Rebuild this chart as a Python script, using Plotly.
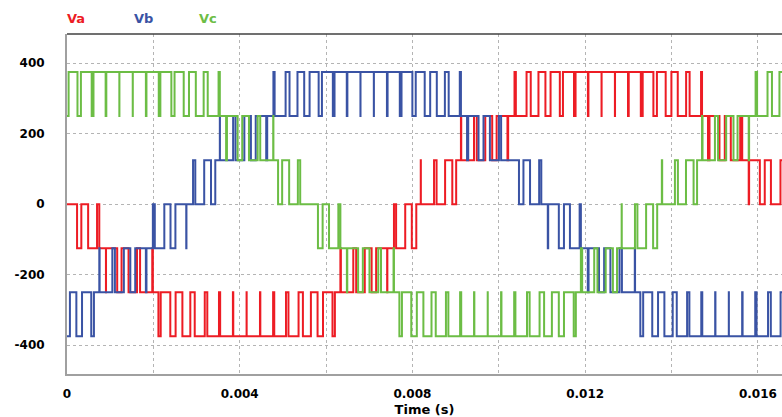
import plotly.graph_objects as go

# Switching instants, in electrical degrees of the 60 Hz
# fundamental, each paired with the voltage level (V) held after that instant.
F0 = 60.0
T_END = 0.016558  # right edge of the visible window (s)

va_steps = [(0,0),(5.03,-125),(7.17,0),(10.57,-125),(15.03,0),(16.15,-125),(19.48,-250),(19.52,-125),
    (25.11,-250),(27.29,-125),(30.79,-250),(35.01,-125),(36.55,-250),(42.65,-125),(42.95,-250),
    (45.73,-375),(46.87,-250),(51.67,-375),(54.33,-250),(57.72,-375),(61.68,-250),(63.89,-375),
    (68.91,-250),(70.18,-375),(76.02,-250),(76.61,-375),(82.99,-250),(83.17,-375),(89.83,-250),
    (89.87,-375),(96.53,-250),(96.70,-375),(103.10,-250),(103.67,-375),(109.53,-250),(110.77,-375),
    (115.83,-250),(118.0,-375),(122.0,-250),(125.34,-375),(128.06,-250),(132.8,-375),(134.0,-250),
    (136.75,-125),(137.0,-250),(143.2,-125),(144.65,-250),(148.95,-125),(152.37,-250),(154.63,-125),
    (160.15,-250),(160.25,-125),(163.55,0),(164.62,-125),(169.18,0),(172.48,-125),(174.72,0),
    (176.95,125),(177.0,0),(183.6,125),(184.87,0),(189.13,125),(192.73,0),(194.67,125),(197.05,250),
    (197.2,125),(203.6,250),(204.98,125),(209.22,250),(212.69,125),(214.91,250),(220.33,125),
    (220.67,250),(223.85,375),(224.52,250),(229.88,375),(231.97,250),(235.83,375),(239.31,250),
    (241.89,375),(246.52,250),(248.08,375),(253.61,250),(254.39,375),(260.57,250),(260.83,375),
    (267.38,250),(267.42,375),(274.07,250),(274.13,375),(280.62,250),(280.98,375),(287.03,250),
    (287.97,375),(293.32,250),(295.08,375),(299.47,250),(302.33,375),(305.51,250),(309.69,375),
    (311.44,250),(317.16,375),(317.65,250),(320.63,125),(321.38,250),(326.37,125),(329.03,250),
    (332.04,125),(336.76,250),(337.75,125),(341.0,0),(341.2,125),(346.57,0),(349.03,125),
    (352.11,0),(356.89,125)]

vb_steps = [(0,-375),(1.46,-250),(4.68,-375),(7.52,-250),(12.13,-375),(13.47,-250),(16.15,-125),
    (16.32,-250),(22.68,-125),(23.96,-250),(28.44,-125),(31.67,-250),(34.13,-125),(39.45,-250),
    (39.75,-125),(42.95,0),(43.92,-125),(48.68,0),(51.77,-125),(54.23,0),(59.65,-125),(59.75,0),
    (63.05,125),(64.17,0),(68.63,125),(72.03,0),(74.17,125),(76.45,250),(76.5,125),(83.1,250),
    (84.29,125),(88.71,250),(92.0,125),(94.4,250),(99.65,125),(100.15,250),(103.25,375),
    (103.85,250),(109.35,375),(111.31,250),(115.29,375),(118.65,250),(121.35,375),(125.88,250),
    (127.52,375),(132.98,250),(133.82,375),(139.95,250),(140.25,375),(146.78,250),(146.82,375),
    (153.48,250),(153.52,375),(160.04,250),(160.36,375),(166.47,250),(167.33,375),(172.76,250),
    (174.44,375),(178.93,250),(181.67,375),(184.98,250),(189.02,375),(190.92,250),(196.48,375),
    (197.05,250),(200.11,125),(200.69,250),(205.86,125),(208.34,250),(211.54,125),(216.06,250),
    (217.15,125),(226.08,0),(228.32,125),(231.62,0),(236.18,125),(237.25,0),(240.5,-125),
    (240.7,0),(246.02,-125),(248.58,0),(251.57,-125),(256.43,0),(257.05,-125),(260.5,-250),
    (260.9,-125),(266.12,-250),(268.68,-125),(271.82,-250),(276.38,-125),(277.58,-250),
    (284.02,-125),(284.15,-250),(286.79,-375),(288.21,-250),(292.75,-375),(295.65,-250),
    (298.82,-375),(302.98,-250),(305.01,-375),(310.19,-250),(311.33,-375),(317.27,-250),
    (317.77,-375),(324.23,-250),(324.36,-375),(331.04,-250),(331.08,-375),(337.72,-250),
    (337.94,-375),(344.26,-250),(344.93,-375),(350.67,-250),(352.06,-375),(356.94,-250)]

vc_steps = [(0,250),(0.8,375),(5.24,250),(6.96,375),(12.35,250),(13.25,375),(19.33,250),(19.67,375),
    (26.18,250),(26.22,375),(32.88,250),(32.92,375),(39.46,250),(39.74,375),(45.9,250),(46.7,375),
    (52.2,250),(53.8,375),(58.38,250),(61.02,375),(64.44,250),(68.36,375),(70.39,250),(75.81,375),
    (76.45,250),(79.59,125),(80.01,250),(85.35,125),(87.65,250),(91.03,125),(95.37,250),
    (96.65,125),(103.15,250),(103.25,125),(105.58,0),(107.62,125),(111.12,0),(115.48,125),
    (116.65,0),(125.53,-125),(127.87,0),(131.07,-125),(135.73,0),(136.75,-125),(140.0,-250),
    (140.2,-125),(145.62,-250),(147.98,-125),(151.3,-250),(155.7,-125),(157.06,-250),
    (163.34,-125),(163.55,-250),(166.26,-375),(167.54,-250),(172.21,-375),(174.99,-250),
    (178.27,-375),(182.33,-250),(184.45,-375),(189.55,-250),(190.76,-375),(196.64,-250),
    (197.19,-375),(203.61,-250),(203.76,-375),(210.44,-250),(210.47,-375),(217.13,-250),
    (217.32,-375),(223.68,-250),(224.3,-375),(230.1,-250),(231.41,-375),(236.39,-250),
    (238.65,-375),(242.55,-250),(246.01,-375),(248.59,-250),(253.47,-375),(254.53,-250),
    (257.05,-125),(257.69,-250),(263.72,-125),(265.34,-250),(269.46,-125),(273.06,-250),
    (275.14,-125),(277.45,0),(277.5,-125),(284.1,0),(285.32,-125),(289.68,0),(293.18,-125),
    (295.22,0),(297.55,125),(297.71,0),(304.09,125),(305.58,0),(309.62,125),(313.43,0),
    (315.17,125),(317.65,250),(317.9,125),(324.1,250),(325.67,125),(329.73,250),(333.38,125),
    (335.42,250),(341.0,125),(341.2,250),(344.45,375),(345.19,250),(350.41,375),(352.63,250),
    (356.37,375)]

series_names = ["Va", "Vb", "Vc"]
series_colors = ["#ed1c24", "#3a53a4", "#6cbd45"]

x_tick_vals = [0, 0.002, 0.004, 0.006, 0.008, 0.010, 0.012, 0.014, 0.016]
x_tick_text = ["0", "", "0.004", "", "0.008", "", "0.012", "", "0.016"]
y_tick_vals = [-400, -200, 0, 200, 400]
y_tick_text = ["-400", "-200", "0", "200", "400"]


def to_xy(steps):
    xs = [deg / 360.0 / F0 for deg, _ in steps]
    ys = [lvl for _, lvl in steps]
    xs.append(T_END)
    ys.append(ys[-1])
    return xs, ys


fig = go.Figure()
for steps, name, color in zip([va_steps, vb_steps, vc_steps], series_names, series_colors):
    xs, ys = to_xy(steps)
    fig.add_trace(go.Scatter(x=xs, y=ys, mode="lines", name=name,
                             line=dict(color=color, width=2, shape="hv"),
                             showlegend=False))

tick_font = dict(family="DejaVu Sans", size=12, color="black", weight="bold")

fig.update_layout(
    width=782, height=417,
    margin=dict(l=67, r=0, t=34, b=43),
    paper_bgcolor="white", plot_bgcolor="white",
    xaxis=dict(range=[0, T_END], tickvals=x_tick_vals, ticktext=x_tick_text,
               showgrid=True, gridcolor="#b4b4b4", griddash="3px,3px", gridwidth=1,
               zeroline=False, showline=True, linecolor="#a0a0a0", linewidth=2,
               ticks="", tickfont=tick_font, ticklabelstandoff=8,
               title=dict(text="Time (s)", standoff=4,
                          font=dict(family="DejaVu Sans", size=13, color="black", weight="bold"))),
    yaxis=dict(range=[-482, 483], tickvals=y_tick_vals, ticktext=y_tick_text,
               showgrid=True, gridcolor="#b4b4b4", griddash="3px,3px", gridwidth=1,
               zeroline=False, showline=True, linecolor="#a0a0a0", linewidth=2,
               ticks="", tickfont=tick_font, ticklabelstandoff=18),
    shapes=[dict(type="line", xref="paper", yref="paper", x0=0, x1=1, y0=1, y1=1,
                 line=dict(color="#404040", width=1.5))],
)

label_x = [0.0126, 0.1063, 0.1972]
for name, color, lx in zip(series_names, series_colors, label_x):
    fig.add_annotation(text=name, xref="paper", yref="paper", x=lx, y=1.047,
                       xanchor="center", yanchor="middle", showarrow=False,
                       font=dict(family="DejaVu Sans", size=13, color=color, weight="bold"))

fig.write_html("out.html")
